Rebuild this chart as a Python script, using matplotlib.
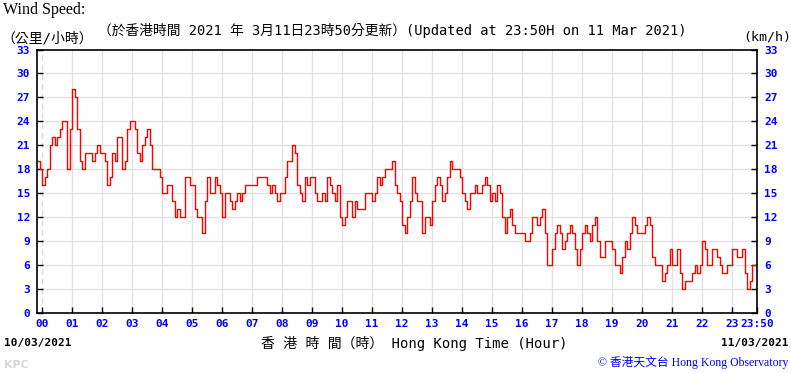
import numpy as np
import matplotlib
matplotlib.use('Agg')
import matplotlib.pyplot as plt

# wind speed (km/h), 5-minute readings from 23:50 on 10/03 to 23:50 on 11/03
start_min = -10
step_min = 5
speed_pre = [19, 18]
speed_hours = [
    [16, 17, 18, 21, 22, 21, 22, 23, 24, 24, 18, 23],   # 00
    [28, 27, 23, 19, 18, 20, 20, 20, 19, 20, 21, 20],   # 01
    [20, 19, 16, 17, 20, 19, 22, 22, 18, 19, 23, 24],   # 02
    [24, 23, 20, 19, 21, 22, 23, 21, 18, 18, 18, 17],   # 03
    [15, 15, 16, 16, 14, 12, 13, 12, 12, 17, 17, 16],   # 04
    [16, 13, 12, 12, 10, 14, 17, 15, 15, 17, 16, 15],   # 05
    [12, 15, 15, 14, 13, 14, 15, 14, 15, 16, 16, 16],   # 06
    [16, 16, 17, 17, 17, 17, 16, 15, 16, 15, 14, 15],   # 07
    [15, 17, 19, 19, 21, 20, 16, 15, 14, 17, 16, 17],   # 08
    [17, 15, 14, 14, 15, 14, 17, 16, 15, 14, 16, 12],   # 09
    [11, 12, 14, 14, 12, 14, 13, 13, 13, 15, 15, 15],   # 10
    [14, 15, 17, 16, 17, 18, 18, 18, 19, 16, 15, 14],   # 11
    [11, 10, 12, 14, 17, 15, 14, 14, 10, 12, 12, 11],   # 12
    [14, 16, 17, 16, 14, 15, 17, 19, 18, 18, 18, 17],   # 13
    [15, 14, 13, 15, 15, 16, 15, 15, 16, 17, 16, 14],   # 14
    [15, 14, 16, 15, 12, 10, 12, 13, 11, 10, 10, 10],   # 15
    [10, 9, 9, 10, 12, 12, 11, 12, 13, 10, 6, 6],       # 16
    [8, 10, 11, 10, 8, 9, 10, 11, 10, 8, 6, 8],         # 17
    [10, 11, 10, 9, 11, 12, 9, 7, 7, 9, 9, 9],          # 18
    [8, 6, 6, 5, 7, 9, 8, 10, 12, 11, 10, 10],          # 19
    [10, 11, 12, 11, 7, 6, 6, 6, 4, 5, 6, 8],           # 20
    [6, 6, 8, 5, 3, 4, 4, 4, 5, 6, 5, 6],               # 21
    [9, 8, 6, 6, 8, 8, 7, 6, 5, 5, 6, 6],               # 22
    [8, 8, 7, 7, 8, 5, 3, 4, 6, 6, 6],                  # 23
]
hour_labels = ['%02d' % h for h in range(24)] + ['23:50']
y_ticks = list(range(0, 34, 3))

speed = speed_pre + [v for row in speed_hours for v in row]
t = (start_min + step_min * np.arange(len(speed))) / 60.0

W, H = 791, 373
fig = plt.figure(figsize=(W / 100, H / 100), dpi=100, facecolor='w')
ax = fig.add_axes([37 / W, 1 - 313 / H, 720 / W, 263.5 / H])

mono = ['DejaVu Sans Mono', 'Noto Sans CJK TC']
blue = '#0000ff'

# grid: dashed line at 00, solid every other hour
for h in range(1, 24):
    ax.axvline(h, color='#e2e2e2', lw=1, zorder=0)
ax.axvline(0, color='#d8d8d8', lw=1, ls=(0, (4, 3)), zorder=0)
for y in y_ticks[1:-1]:
    ax.axhline(y, color='#e2e2e2', lw=1, zorder=0)

ax.step(t, speed, where='post', color='#ff0000', lw=1.0, zorder=2)

ax.set_xlim(-10 / 60, 1430 / 60)
ax.set_ylim(0, 33)
ax.set_xticks(list(range(24)) + [1430 / 60])
ax.set_xticklabels(hour_labels)
ax.set_yticks(y_ticks)
ax.tick_params(direction='in', length=4, width=1, right=True, labelright=True,
               labelcolor=blue, pad=4)
ax.tick_params(axis='y', pad=5)
for lab in ax.get_xticklabels():
    lab.set_fontfamily('DejaVu Sans Mono')
    lab.set_fontweight('bold')
    lab.set_fontsize(8)
for tk in ax.yaxis.get_major_ticks():
    for lab in (tk.label1, tk.label2):
        lab.set_fontfamily('DejaVu Sans Mono')
        lab.set_fontweight('bold')
        lab.set_fontsize(8)
        lab.set_color(blue)
for s in ax.spines.values():
    s.set_color('black')
    s.set_linewidth(1.2)


def px(x, y):
    return x / W, 1 - y / H


fig.text(*px(3, 10), 'Wind Speed:', family='Liberation Serif', fontsize=11.5, va='center')
fig.text(*px(1, 38), '（公里/小時）', family=mono, fontsize=10, va='center')
fig.text(*px(98, 31), '（於香港時間 2021 年 3月11日23時50分更新）(Updated at 23:50H on 11 Mar 2021)',
         family=mono, fontsize=9.9, va='center')
fig.text(*px(791, 37), '(km/h)', family=mono, fontsize=9.5, va='center', ha='right')

fig.text(*px(4, 343), '10/03/2021', family='DejaVu Sans Mono', fontweight='bold', fontsize=8, va='center')
fig.text(*px(788, 343), '11/03/2021', family='DejaVu Sans Mono', fontweight='bold', fontsize=8,
         va='center', ha='right')
fig.text(*px(261, 343), '香 港 時 間（時） Hong Kong Time (Hour)', family=mono, fontsize=10, va='center')
fig.text(*px(4, 365), 'KPC', family='DejaVu Sans', fontweight='bold', fontsize=8, color='#d8d8d8', va='center')
fig.text(*px(788, 362), '© 香港天文台 Hong Kong Observatory', family=['Liberation Serif', 'Noto Sans CJK TC'],
         fontsize=8.5, color=blue, va='center', ha='right')

fig.savefig('out.png', dpi=100, facecolor='w')
